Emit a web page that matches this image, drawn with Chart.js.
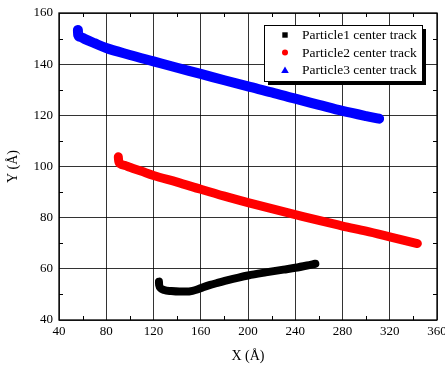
<!DOCTYPE html>
<html><head><meta charset="utf-8">
<script src="https://cdn.jsdelivr.net/npm/chart.js@4/dist/chart.umd.min.js"></script>
<style>html,body{margin:0;padding:0;background:#fff}#wrap{width:445px;height:367px;position:relative}</style>
</head><body><div id="wrap"><canvas id="c"></canvas></div>
<script>
// ---- data ----
const seriesNames = ['Particle1 center track', 'Particle2 center track', 'Particle3 center track'];
const p1X = [124.6, 124.8, 126, 129, 135, 142, 148, 153, 157, 162, 168, 175, 183, 192, 200, 215, 230, 240, 250, 257];
const p1Y = [55.0, 53.6, 52.4, 51.7, 51.3, 51.1, 51.1, 51.4, 51.9, 52.8, 53.7, 54.6, 55.6, 56.6, 57.4, 58.6, 59.7, 60.4, 61.3, 62.0];
const p2X = [90.2, 90.6, 92, 96, 100, 110, 120, 140, 160, 180, 200, 220, 240, 260, 280, 300, 320, 343.4];
const p2Y = [103.8, 102.0, 101.0, 100.4, 99.7, 98.1, 96.5, 93.9, 91.1, 88.4, 85.9, 83.5, 81.2, 78.9, 76.7, 74.7, 72.5, 69.9];
const p3X = [56, 56.2, 58, 62, 70, 80, 100, 120, 140, 160, 180, 200, 220, 240, 260, 280, 300, 311];
const p3Y = [153.4, 151.5, 150.7, 149.8, 148.2, 146.3, 143.6, 141.1, 138.6, 136.2, 133.7, 131.3, 129.0, 126.5, 124.1, 121.7, 119.7, 118.7];
const xTickValues = [40, 80, 120, 160, 200, 240, 280, 320, 360];
const yTickValues = [40, 60, 80, 100, 120, 140, 160];
const xMinorValues = [60, 100, 140, 180, 220, 260, 300, 340];
const yMinorValues = [50, 70, 90, 110, 130, 150];
const xTitle = 'X (Å)';
const yTitle = 'Y (Å)';

const seriesColors = ['#000000', '#ff0000', '#0000ff'];
const seriesMarkers = ['rect', 'circle', 'triangle'];
const seriesWidths = [8, 9, 10];

function pts(xs, ys) { return xs.map((x, i) => ({x: x, y: ys[i]})); }
const allX = [p1X, p2X, p3X], allY = [p1Y, p2Y, p3Y];

const FONT = 'Liberation Serif';

const decorPlugin = {
  id: 'decor',
  afterDatasetsDraw(chart) {
    const ctx = chart.ctx, a = chart.chartArea;
    const xs = chart.scales.x, ys = chart.scales.y;
    ctx.save();
    // frame
    ctx.strokeStyle = '#000';
    ctx.lineWidth = 1.3;
    ctx.strokeRect(a.left, a.top, a.right - a.left, a.bottom - a.top);
    // minor ticks, inward, all four sides
    ctx.lineWidth = 1;
    ctx.beginPath();
    xMinorValues.forEach(v => {
      const px = Math.round(xs.getPixelForValue(v)) + 0.5;
      ctx.moveTo(px, a.bottom); ctx.lineTo(px, a.bottom - 4);
      ctx.moveTo(px, a.top); ctx.lineTo(px, a.top + 4);
    });
    yMinorValues.forEach(v => {
      const py = Math.round(ys.getPixelForValue(v)) + 0.5;
      ctx.moveTo(a.left, py); ctx.lineTo(a.left + 4, py);
      ctx.moveTo(a.right, py); ctx.lineTo(a.right - 4, py);
    });
    ctx.stroke();

    // legend box
    const bx = a.right - 173, by = a.top + 12, bw = 158, bh = 56;
    ctx.fillStyle = '#000';
    ctx.fillRect(bx + 4, by + 4, bw, bh);
    ctx.fillStyle = '#fff';
    ctx.fillRect(bx, by, bw, bh);
    ctx.strokeStyle = '#000';
    ctx.lineWidth = 1;
    ctx.strokeRect(bx + 0.5, by + 0.5, bw, bh);
    ctx.font = '13.5px "' + FONT + '"';
    ctx.textBaseline = 'middle';
    ctx.textAlign = 'left';
    chart.data.datasets.forEach((ds, i) => {
      const cy = by + 10 + i * 17.5;
      const cx = bx + 21;
      ctx.fillStyle = seriesColors[i];
      const m = seriesMarkers[i];
      if (m === 'rect') {
        ctx.fillRect(cx - 2.7, cy - 2.7, 5.4, 5.4);
      } else if (m === 'circle') {
        ctx.beginPath(); ctx.arc(cx, cy, 3, 0, Math.PI * 2); ctx.fill();
      } else {
        ctx.beginPath();
        ctx.moveTo(cx, cy - 3.5); ctx.lineTo(cx + 3.8, cy + 3); ctx.lineTo(cx - 3.8, cy + 3);
        ctx.closePath(); ctx.fill();
      }
      ctx.fillStyle = '#000';
      ctx.fillText(ds.label, bx + 38, cy + 0.5);
    });
    ctx.restore();
  }
};

new Chart(document.getElementById('c'), {
  type: 'scatter',
  data: {
    datasets: seriesNames.map((name, i) => ({
      label: name,
      data: pts(allX[i], allY[i]),
      showLine: true,
      borderColor: seriesColors[i],
      backgroundColor: seriesColors[i],
      borderWidth: seriesWidths[i],
      borderCapStyle: 'round',
      borderJoinStyle: 'round',
      pointRadius: 0,
      pointHoverRadius: 0,
      pointStyle: seriesMarkers[i],
      cubicInterpolationMode: 'monotone'
    }))
  },
  options: {
    responsive: true,
    maintainAspectRatio: false,
    animation: false,
    devicePixelRatio: 1,
    layout: {padding: {left: 0, right: 8, top: 13, bottom: 0}},
    plugins: {legend: {display: false}, tooltip: {enabled: false}},
    scales: {
      x: {
        type: 'linear', min: 40, max: 360,
        afterBuildTicks: s => { s.ticks = xTickValues.map(v => ({value: v})); },
        afterFit: s => { s.height = 47; s.paddingLeft = 0; s.paddingRight = 0; },
        ticks: {color: '#000', font: {family: FONT, size: 13}, padding: 4, maxRotation: 0, autoSkip: false},
        grid: {color: 'rgba(0,0,0,0.8)', lineWidth: 1, drawTicks: false},
        border: {display: false},
        title: {display: true, text: xTitle, color: '#000', font: {family: FONT, size: 14}, padding: {top: 0, bottom: 2}}
      },
      y: {
        type: 'linear', min: 40, max: 160,
        afterBuildTicks: s => { s.ticks = yTickValues.map(v => ({value: v})); },
        afterFit: s => { s.width = 59; s.paddingTop = 0; s.paddingBottom = 0; },
        ticks: {color: '#000', font: {family: FONT, size: 13}, padding: 6, autoSkip: false},
        grid: {color: 'rgba(0,0,0,0.8)', lineWidth: 1, drawTicks: false},
        border: {display: false},
        title: {display: true, text: yTitle, color: '#000', font: {family: FONT, size: 14}, padding: {top: 5, bottom: 0}}
      }
    }
  },
  plugins: [decorPlugin]
});
</script></body></html>
